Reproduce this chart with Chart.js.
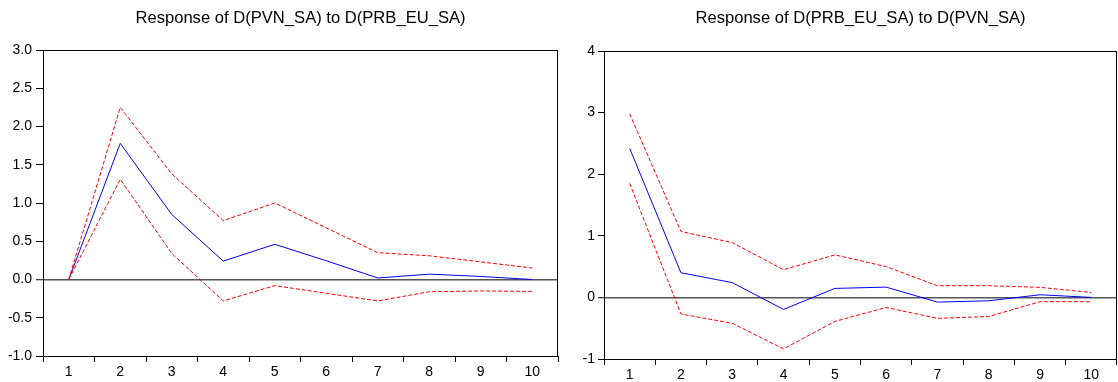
<!DOCTYPE html>
<html>
<head>
<meta charset="utf-8">
<script src="https://cdn.jsdelivr.net/npm/chart.js@4/dist/chart.umd.min.js"></script>
<style>
html,body{margin:0;padding:0;background:#fff;}
#wrap{position:relative;width:1118px;height:382px;overflow:hidden;background:#fff;}
.box{position:absolute;top:0;height:382px;}
</style>
</head>
<body>
<div id="wrap">
  <div class="box" style="left:0;width:560px;"><canvas id="c1" width="560" height="382"></canvas></div>
  <div class="box" style="left:560px;width:558px;"><canvas id="c2" width="558" height="382"></canvas></div>
</div>
<script>
// ---- data ----
const periods = ['1','2','3','4','5','6','7','8','9','10'];

const leftTitle = 'Response of D(PVN_SA) to D(PRB_EU_SA)';
const leftResponse = [0, 1.78, 0.85, 0.24, 0.46, 0.245, 0.02, 0.07, 0.04, 0.0];
const leftUpper    = [0, 2.25, 1.38, 0.77, 1.00, 0.675, 0.35, 0.31, 0.23, 0.15];
const leftLower    = [0, 1.31, 0.34, -0.28, -0.08, -0.18, -0.28, -0.16, -0.15, -0.155];
const leftTicks    = [-1.0, -0.5, 0.0, 0.5, 1.0, 1.5, 2.0, 2.5, 3.0];

const rightTitle = 'Response of D(PRB_EU_SA) to D(PVN_SA)';
const rightResponse = [2.42, 0.40, 0.24, -0.195, 0.146, 0.167, -0.076, -0.055, 0.043, 0.0];
const rightUpper    = [2.98, 1.07, 0.89, 0.45, 0.69, 0.50, 0.19, 0.19, 0.163, 0.08];
const rightLower    = [1.85, -0.27, -0.42, -0.835, -0.39, -0.163, -0.34, -0.31, -0.07, -0.07];
const rightTicks    = [-1, 0, 1, 2, 3, 4];

const FONT = '"Liberation Sans", Arial, Helvetica, sans-serif';

const framePlugin = {
  id: 'frame',
  afterDatasetsDraw(chart) {
    const a = chart.chartArea, ctx = chart.ctx;
    ctx.save();
    ctx.strokeStyle = '#000';
    ctx.lineWidth = 1;
    const l = Math.round(a.left) + 0.5, t = Math.round(a.top) + 0.5;
    const r = Math.round(a.right) - 0.5, b = Math.round(a.bottom) + 0.5;
    ctx.strokeRect(l, t, r - l, b - t);
    ctx.restore();
  }
};

function makeChart(id, title, resp, up, lo, tickVals, decimals, cfg) {
  const step = tickVals[1] - tickVals[0];
  return new Chart(document.getElementById(id), {
    type: 'line',
    data: {
      labels: periods,
      datasets: [
        {data: up, borderColor: '#ff0000', borderWidth: 1, borderDash: [4, 2], pointRadius: 0, tension: 0, fill: false},
        {data: lo, borderColor: '#ff0000', borderWidth: 1, borderDash: [4, 2], pointRadius: 0, tension: 0, fill: false},
        {data: resp, borderColor: '#0000ff', borderWidth: 1, pointRadius: 0, tension: 0, fill: false}
      ]
    },
    options: {
      responsive: false,
      animation: false,
      layout: {padding: {left: 0, right: cfg.padRight, top: 0, bottom: 0}},
      plugins: {
        legend: {display: false},
        tooltip: {enabled: false},
        title: {
          display: true, text: title, fullSize: false, color: '#000',
          font: {family: FONT, size: 16.6, weight: 'normal', lineHeight: 1.2},
          padding: {top: 8, bottom: cfg.titleBottom}
        }
      },
      scales: {
        x: {
          type: 'category',
          offset: true,
          border: {display: false},
          grid: {offset: true, drawOnChartArea: false, drawTicks: true, tickLength: 6, tickColor: '#000', tickWidth: 1},
          ticks: {color: '#000', font: {family: FONT, size: 14}, padding: 2, maxRotation: 0, autoSkip: false},
          afterFit(s) { s.height = cfg.xHeight; }
        },
        y: {
          min: tickVals[0], max: tickVals[tickVals.length - 1],
          border: {display: false},
          grid: {
            drawOnChartArea: true, drawTicks: true, tickLength: cfg.yTickLen,
            color: c => (c.tick && Math.abs(c.tick.value) < 1e-9) ? '#555555' : 'rgba(0,0,0,0)',
            lineWidth: c => (c.tick && Math.abs(c.tick.value) < 1e-9) ? 1.5 : 1,
            tickColor: '#000', tickWidth: 1
          },
          ticks: {
            stepSize: step, color: '#000', font: {family: FONT, size: 14}, padding: cfg.yPad,
            callback: v => Number(v).toFixed(decimals)
          },
          afterFit(s) { s.width = cfg.yWidth; }
        }
      }
    },
    plugins: [framePlugin]
  });
}

makeChart('c1', leftTitle, leftResponse, leftUpper, leftLower, leftTicks, 1,
  {padRight: 2, titleBottom: 22.08, xHeight: 26, yWidth: 43, yTickLen: 7, yPad: 4});
makeChart('c2', rightTitle, rightResponse, rightUpper, rightLower, rightTicks, 0,
  {padRight: 1, titleBottom: 23.08, xHeight: 23, yWidth: 44, yTickLen: 6, yPad: 3});
</script>
</body>
</html>
